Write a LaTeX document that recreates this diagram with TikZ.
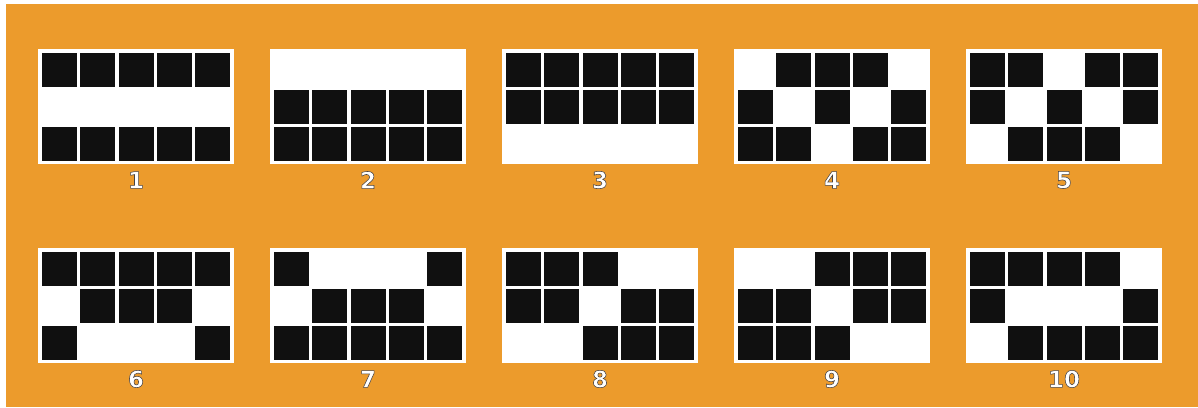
\documentclass[tikz,border=0pt]{standalone}
\usepackage{fontspec}
\newfontfamily\lblfont{DejaVu Sans}[BoldFeatures={FakeBold=2.4}]
\definecolor{bgorange}{RGB}{236,155,44}
\definecolor{cellblack}{RGB}{16,16,16}
\newcommand\outlined[1]{\special{pdf:code 0.28 0.26 0.26 RG}#1}
\tikzset{
  panel/.style={draw=none, fill=white, anchor=north west, inner sep=0pt, minimum width=196pt, minimum height=115pt},
  cell/.style={draw=none, fill=cellblack, anchor=north west, inner sep=0pt, minimum width=35pt, minimum height=34.5pt},
  lbl/.style={inner sep=0pt, font=\lblfont\bfseries\fontsize{23}{23}\selectfont, text=white}
}
\begin{document}
\begin{tikzpicture}[x=1pt,y=-1pt]
\useasboundingbox (0,0) rectangle (1198,407);
\fill[white] (0,0) rectangle (1198,407);
\fill[bgorange] (6,4) rectangle (1198,407);
\foreach \n/\px/\py/\pat in {
  1/38/49/{1,1,1,1,1,0,0,0,0,0,1,1,1,1,1},
  2/270/49/{0,0,0,0,0,1,1,1,1,1,1,1,1,1,1},
  3/502/49/{1,1,1,1,1,1,1,1,1,1,0,0,0,0,0},
  4/734/49/{0,1,1,1,0,1,0,1,0,1,1,1,0,1,1},
  5/966/49/{1,1,0,1,1,1,0,1,0,1,0,1,1,1,0},
  6/38/248/{1,1,1,1,1,0,1,1,1,0,1,0,0,0,1},
  7/270/248/{1,0,0,0,1,0,1,1,1,0,1,1,1,1,1},
  8/502/248/{1,1,1,0,0,1,1,0,1,1,0,0,1,1,1},
  9/734/248/{0,0,1,1,1,1,1,0,1,1,1,1,1,0,0},
  10/966/248/{1,1,1,1,0,1,0,0,0,1,0,1,1,1,1}} {
  \node[panel] (p\n) at (\px,\py) {};
  \foreach \b [count=\k from 0] in \pat {
    \pgfmathtruncatemacro\col{mod(\k,5)}
    \pgfmathtruncatemacro\row{\k/5}
    \ifnum\b=1
      \node[cell] (c\n-\k) at ({\px+4+\col*38.2},{\py+3.5+\row*37}) {};
    \fi
  }
  \node[lbl] (l\n) at ({\px+98},{\py+131}) {\outlined{\n}};
}
\end{tikzpicture}
\end{document}
